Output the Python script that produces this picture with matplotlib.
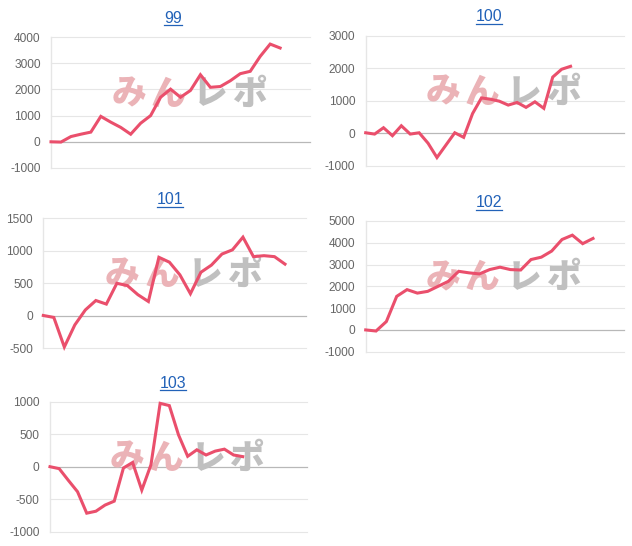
import matplotlib
matplotlib.use('Agg')
import matplotlib.pyplot as plt
import numpy as np
from matplotlib.lines import Line2D

plt.rcParams['font.family'] = ['Liberation Sans', 'DejaVu Sans']

# ---------------- data ----------------
titles = ['99', '100', '101', '102', '103']
n_labels = [27, 30, 26, 26, 29]

s99 = [0, -10, 200, 290, 370, 970, 750, 550, 290, 710, 1000, 1700, 2010, 1700,
       1960, 2560, 2080, 2110, 2330, 2600, 2690, 3260, 3730, 3580]
s100 = [20, -20, 175, -70, 235, -20, 20, -300, -740, -360, 20, -120, 610, 1090,
        1050, 990, 870, 950, 800, 970, 770, 1730, 1970, 2060]
s101 = [5, -25, -480, -140, 90, 235, 180, 500, 465, 325, 220, 900, 825, 630,
        340, 670, 780, 950, 1015, 1210, 910, 925, 910, 795]
s102 = [0, -50, 385, 1540, 1850, 1690, 1770, 2000, 2230, 2690, 2620, 2570, 2770,
        2880, 2770, 2750, 3230, 3340, 3620, 4150, 4350, 3960, 4200]
s103 = [0, -30, -210, -385, -715, -685, -590, -530, -20, 65, -360, 30, 975, 940,
        490, 160, 260, 180, 240, 270, 180, 155]
series = [s99, s100, s101, s102, s103]

yticks = [
    [-1000, 0, 1000, 2000, 3000, 4000],
    [-1000, 0, 1000, 2000, 3000],
    [-500, 0, 500, 1000, 1500],
    [-1000, 0, 1000, 2000, 3000, 4000, 5000],
    [-1000, -500, 0, 500, 1000],
]

watermark_chars = ['み', 'ん', 'レ', 'ポ']

# ---------------- layout (pixels) ----------------
W, H = 632, 546
boxes = [
    (51, 310, 37, 168),
    (365.7, 624, 35.7, 166),
    (43.3, 306, 218.3, 348.3),
    (365.7, 624, 221, 351.7),
    (50, 307, 401.7, 531.7),
]
title_pos = [(173, 18.3), (489, 16.7), (170, 200), (489, 202.5), (173, 383.3)]

LINE = '#ea4f6c'
GRID = '#e6e6e6'
ZERO = '#b8b8b8'
TICK = '#666666'
TITLE = '#2262b8'
PINK = '#ebb3b7'
GREY = '#c0c0c0'

fig = plt.figure(figsize=(W / 100, H / 100), dpi=100)

title_texts = []
for i in range(5):
    l, r, t, b = boxes[i]
    ax = fig.add_axes([l / W, 1 - b / H, (r - l) / W, (b - t) / H])
    ax.set_xlim(0, n_labels[i] - 1)
    ax.set_ylim(yticks[i][0], yticks[i][-1])
    ax.set_yticks(yticks[i])
    ax.set_yticklabels([str(v) for v in yticks[i]])
    ax.set_xticks([])
    ax.tick_params(axis='y', length=0, pad=7.5, labelsize=8.6, labelcolor=TICK)
    for sp in ['top', 'right', 'bottom']:
        ax.spines[sp].set_visible(False)
    ax.spines['left'].set_color(GRID)
    ax.spines['left'].set_linewidth(1.0)
    for v in yticks[i]:
        ax.axhline(v, color=ZERO if v == 0 else GRID, lw=0.9 if v == 0 else 0.8,
                   zorder=1, clip_on=False)

    # watermark
    yc = 0.565
    xs = [0.30, 0.45, 0.615, 0.765]
    cols = [PINK, PINK, GREY, GREY]
    for x, ch, c in zip(xs, watermark_chars, cols):
        ax.text(x, yc, ch, transform=ax.transAxes, ha='center', va='center',
                fontsize=25, fontweight='heavy', color=c, zorder=2,
                family=['Noto Sans CJK JP', 'DejaVu Sans'])

    y = series[i]
    ax.plot(np.arange(len(y)), y, color=LINE, lw=2.2, zorder=3,
            solid_joinstyle='miter', clip_on=False)

    tx, ty = title_pos[i]
    tt = fig.text(tx / W, 1 - ty / H, titles[i], ha='center', va='center',
                  fontsize=11.5, color=TITLE)
    title_texts.append(tt)

fig.canvas.draw()
renderer = fig.canvas.get_renderer()
for tt in title_texts:
    bb = tt.get_window_extent(renderer)
    yl = bb.y0 + 0.5
    fig.add_artist(Line2D([bb.x0 / W, bb.x1 / W], [yl / H, yl / H],
                          transform=fig.transFigure, color=TITLE, lw=0.9))

fig.savefig('out.png', dpi=100)
